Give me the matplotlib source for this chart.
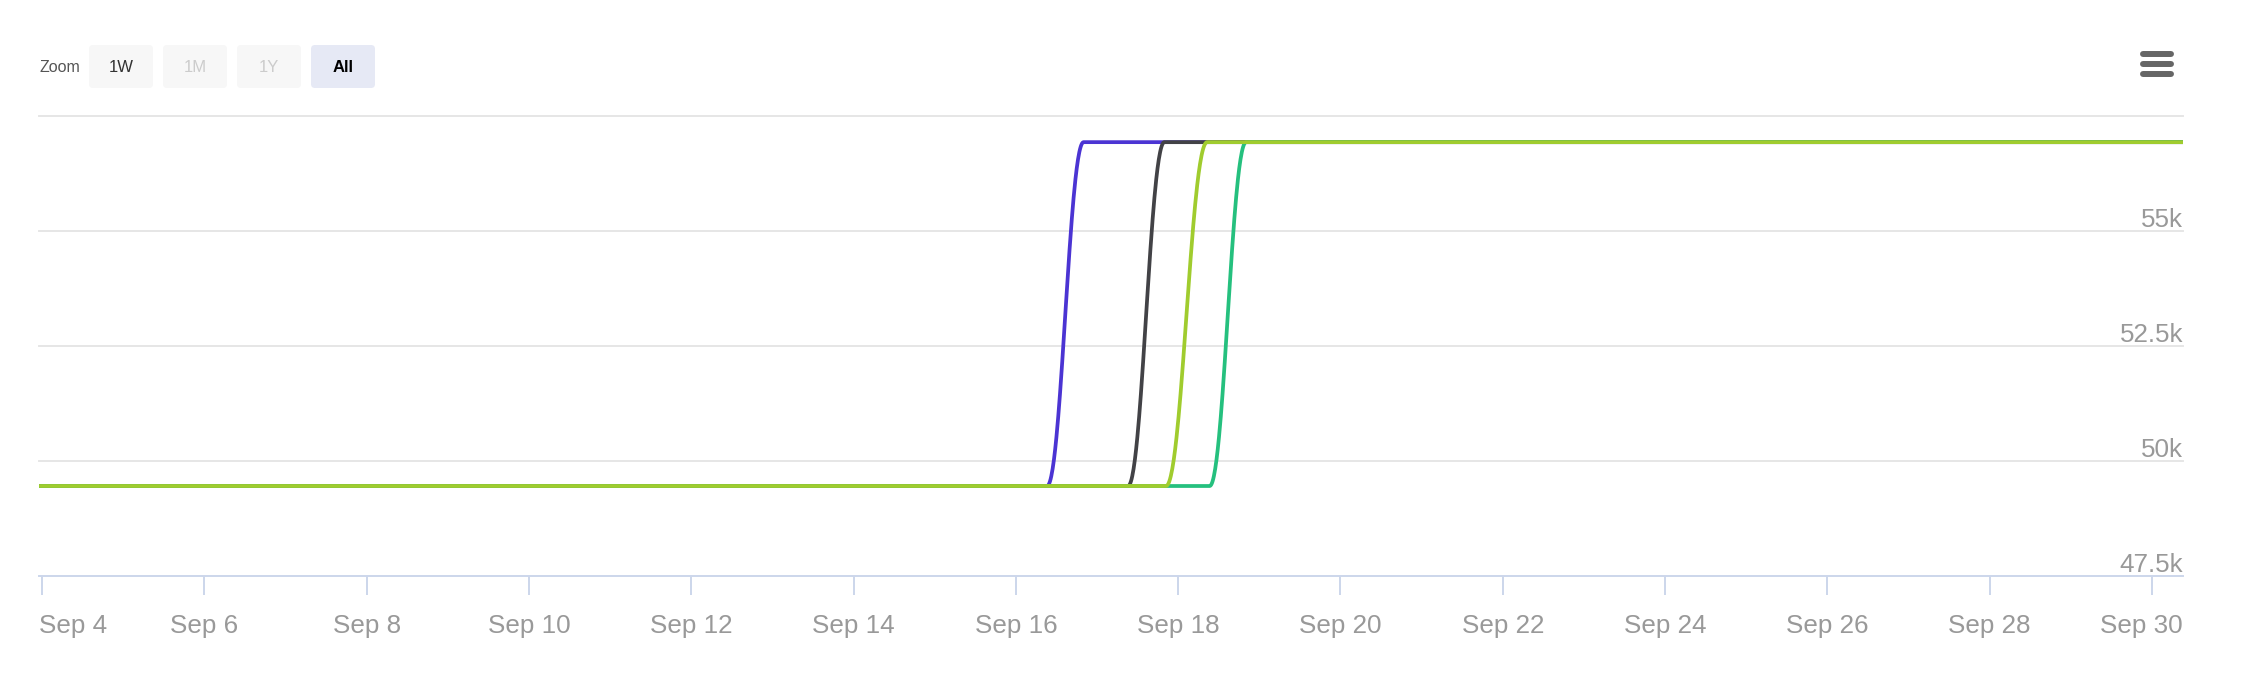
import numpy as np
import matplotlib
matplotlib.use("Agg")
import matplotlib.pyplot as plt
import matplotlib.dates as mdates
from matplotlib.patches import FancyBboxPatch

plt.rcParams['font.family'] = ['Liberation Sans', 'DejaVu Sans']

# data
x_start = "2024-09-03 23:07"
x_end = "2024-09-30 09:10"
low, high = 49450, 56925

purple_times = [x_start, "2024-09-16 09:14", "2024-09-16 20:02", x_end]
purple_vals = [low, low, high, high]
black_times = [x_start, "2024-09-17 09:11", "2024-09-17 19:55", x_end]
black_vals = [low, low, high, high]
green_times = [x_start, "2024-09-18 09:19", "2024-09-18 20:05", x_end]
green_vals = [low, low, high, high]
lime_times = [x_start, "2024-09-17 20:25", "2024-09-18 08:33", x_end]
lime_vals = [low, low, high, high]

y_ticks = [47500, 50000, 52500, 55000, 57500]
x_tick_days = list(range(4, 31, 2))
buttons = ["1W", "1M", "1Y", "All"]


def to_num(times):
    return mdates.date2num(np.array(times, dtype="datetime64[m]"))


def spline(xs, ys, n=60):
    # highcharts-style spline: bezier segments with smoothed control points
    xs = np.asarray(xs, float)
    ys = np.asarray(ys, float)
    k = 1.5
    m = len(xs)
    lc = [(xs[i], ys[i]) for i in range(m)]
    rc = [(xs[i], ys[i]) for i in range(m)]
    for i in range(1, m - 1):
        x, y = xs[i], ys[i]
        lx, ly, nx, ny = xs[i - 1], ys[i - 1], xs[i + 1], ys[i + 1]
        lcx = (k * x + lx) / (k + 1)
        lcy = (k * y + ly) / (k + 1)
        rcx = (k * x + nx) / (k + 1)
        rcy = (k * y + ny) / (k + 1)
        corr = 0
        if rcx != lcx:
            corr = (rcy - lcy) * (rcx - x) / (rcx - lcx) + y - rcy
        lcy += corr
        rcy += corr
        if lcy > ly and lcy > y:
            lcy = max(ly, y)
            rcy = 2 * y - lcy
        elif lcy < ly and lcy < y:
            lcy = min(ly, y)
            rcy = 2 * y - lcy
        if rcy > ny and rcy > y:
            rcy = max(ny, y)
            lcy = 2 * y - rcy
        elif rcy < ny and rcy < y:
            rcy = min(ny, y)
            lcy = 2 * y - rcy
        lc[i] = (lcx, lcy)
        rc[i] = (rcx, rcy)
    t = np.linspace(0, 1, n)[:, None]
    pts = []
    for i in range(1, m):
        p0 = np.array([xs[i - 1], ys[i - 1]])
        p1 = np.array(rc[i - 1])
        p2 = np.array(lc[i])
        p3 = np.array([xs[i], ys[i]])
        seg = ((1 - t) ** 3) * p0 + 3 * ((1 - t) ** 2) * t * p1 + 3 * (1 - t) * t ** 2 * p2 + t ** 3 * p3
        pts.append(seg)
    pts = np.vstack(pts)
    return pts[:, 0], pts[:, 1]


fig = plt.figure(figsize=(22.42, 6.86), dpi=100)
W, H = 2242, 686
ax = fig.add_axes([39 / W, 110.3 / H, 2144 / W, 460 / H])
ax.set_facecolor('none')

series = [
    (purple_times, purple_vals, '#4b34d3'),
    (black_times, black_vals, '#424246'),
    (green_times, green_vals, '#25c07e'),
    (lime_times, lime_vals, '#a0cc2e'),
]
for times, vals, col in series:
    sx, sy = spline(to_num(times), vals)
    ax.plot(sx, sy, color=col, lw=2.7, solid_capstyle='round', solid_joinstyle='round', zorder=3)

ax.set_xlim(to_num([x_start])[0], to_num([x_end])[0])
ax.set_ylim(y_ticks[0], y_ticks[-1])

for v in y_ticks[1:]:
    ax.axhline(v, color='#e6e6e6', lw=1.4, clip_on=False, zorder=1)
# top gridline has no label in the original
for v in y_ticks[:-1]:
    ax.annotate(f"{v / 1000:g}k", xy=(1, v), xycoords=ax.get_yaxis_transform(),
                xytext=(0, 4), textcoords='offset pixels', ha='right', va='baseline',
                fontsize=18.7, color='#999999')

for s in ['top', 'left', 'right']:
    ax.spines[s].set_visible(False)
ax.spines['bottom'].set_color('#ccd6eb')
ax.spines['bottom'].set_linewidth(1.4)
ax.set_yticks([])

tick_nums = to_num([f"2024-09-{d:02d}" for d in x_tick_days])
ax.set_xticks(tick_nums)
ax.set_xticklabels([])
ax.tick_params(axis='x', direction='out', length=13.5, width=1.4, color='#ccd6eb')

xlabels = []
for d, xn in zip(x_tick_days, tick_nums):
    a = ax.annotate(f"Sep {d}", xy=(xn, 0), xycoords=ax.get_xaxis_transform(),
                    xytext=(0, -57), textcoords='offset pixels', ha='center', va='baseline',
                    fontsize=18.7, color='#999999')
    xlabels.append(a)

# keep first/last labels inside the plot like the original
fig.canvas.draw()
r = fig.canvas.get_renderer()
abb = ax.get_window_extent(r)
for a in xlabels:
    bb = a.get_window_extent(r)
    if bb.x0 < abb.x0:
        a.xyann = (abb.x0 - bb.x0, -57)
    elif bb.x1 > abb.x1:
        a.xyann = (abb.x1 - bb.x1, -57)

# zoom buttons and menu icon
ui = fig.add_axes([0, 0, 1, 1], zorder=-1)
ui.set_xlim(0, W)
ui.set_ylim(H, 0)
ui.axis('off')
ui.text(39, 67, "Zoom", fontsize=11.5, color='#555555', va='center', ha='left')
bx = 89
for b in buttons:
    active = b == "All"
    face = '#e6e9f5' if active else '#f7f7f7'
    ui.add_patch(FancyBboxPatch((bx, 45), 64, 43, boxstyle="round,pad=0,rounding_size=4",
                                fc=face, ec='none'))
    tc = '#000000' if active else ('#333333' if b == "1W" else '#cccccc')
    ui.text(bx + 32, 67, b, fontsize=12, color=tc, ha='center', va='center',
            fontweight='bold' if active else 'normal')
    bx += 74
for yy in [54, 64, 74]:
    ui.plot([2143, 2171], [yy, yy], color='#666666', lw=4.3, solid_capstyle='round')

fig.savefig("out.png", dpi=100, facecolor='white')
